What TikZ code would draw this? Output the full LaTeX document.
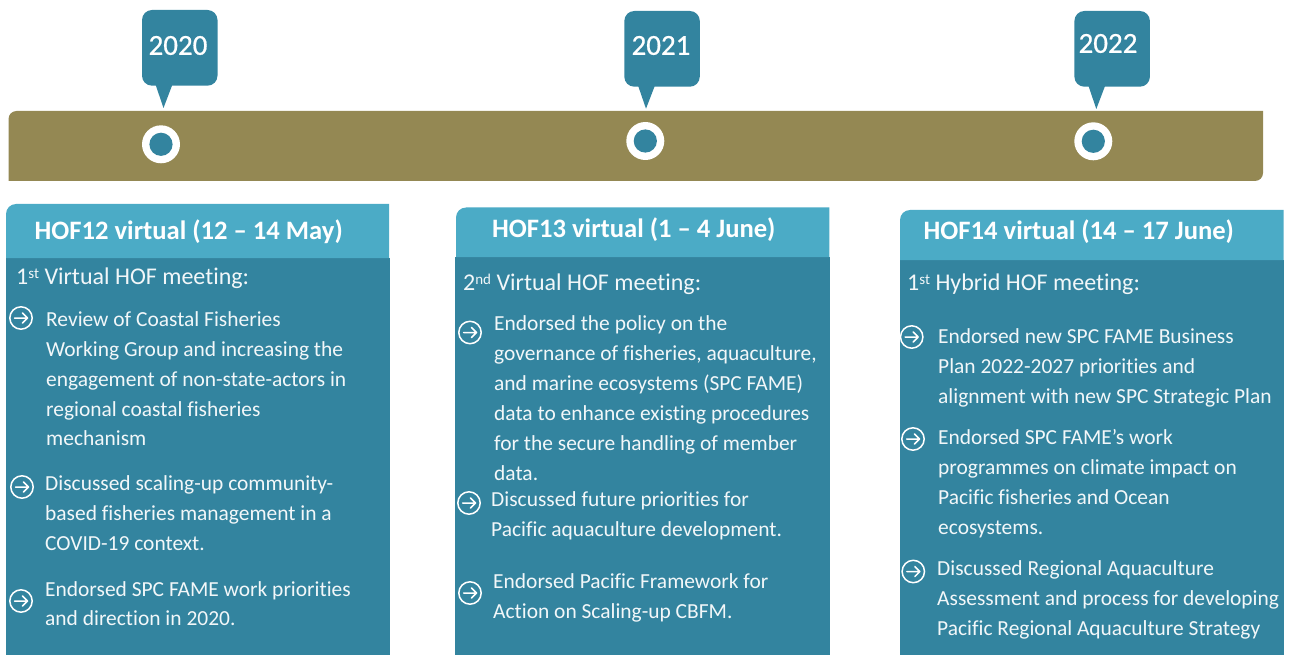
\documentclass[tikz,border=0pt]{standalone}
\usepackage{fontspec}
\setmainfont{Carlito}[Ligatures=CommonOff]
\newfontfamily\yearfont{Carlito}[FakeBold=0.7]
\definecolor{teal}{HTML}{33849F}
\definecolor{lightteal}{HTML}{4BABC6}
\definecolor{olive}{HTML}{948853}
\definecolor{fg}{HTML}{F2F7F9}
\newcommand{\sups}[1]{\raisebox{6.5pt}{\fontsize{15}{16}\selectfont #1}}
\tikzset{
  x=1pt,y=-1pt,
  txt/.style={anchor=base west,inner sep=0pt,text=fg,font=\fontsize{21.45}{24}\selectfont},
  lead/.style={txt,font=\fontsize{24}{26}\selectfont},
  head/.style={anchor=base west,inner sep=0pt,text=white,font=\fontsize{26.6}{30}\selectfont\bfseries},
  year/.style={anchor=center,inner sep=0pt,text=white,font=\fontsize{29}{30}\yearfont},
  ico/.pic={
    \draw[white,line width=1.5pt] (0,0) circle (11.2);
    \draw[white,line width=1.5pt,line cap=round,line join=round] (-6.5,0)--(6.5,0) (1.5,-5)--(6.5,0)--(1.5,5);
  }
}
\newcommand{\callout}[4]{%
  \fill[teal,rounded corners=10pt] (#1,#2) rectangle (#1+75.5,#2+75.7);
  \fill[teal] (#3-8.5,#2+73)--(#3+9.5,#2+73)--(#3,#4)--cycle;
}
\newcommand{\ring}[2]{%
  \fill[white] (#1,#2) circle (19);
  \fill[teal] (#1,#2) circle (11.6);
}
% panel: left, top, split, right of the header, right of the body, left of the body
\newcommand{\panel}[6]{%
  \fill[teal] (#6,#3) rectangle (#5,655);
  \fill[lightteal] (#1,#2+10) .. controls (#1,#2+4.5) and (#1+4.5,#2) .. (#1+10,#2) -- (#4,#2) -- (#4,#3) -- (#1,#3) -- cycle;
}
\begin{document}
\begin{tikzpicture}
\useasboundingbox (0,0) rectangle (1290,655);
% bar
\fill[olive] (8.5,181) -- (8.5,119) .. controls (8.5,114.6) and (12.1,111) .. (16.5,111) -- (1263,111) -- (1263,173) .. controls (1263,177.4) and (1259.4,181) .. (1255,181) -- cycle;
% callouts
\callout{142}{10}{163.5}{108}
\callout{624.3}{11}{646}{108.7}
\callout{1074.4}{11}{1096.3}{109}
\node[year] (y20) at (178,45.5) {2020};
\node[year] (y21) at (661,45.5) {2021};
\node[year] (y22) at (1108,43.5) {2022};
\ring{161}{144.3}
\ring{645.3}{141}
\ring{1093.3}{141.3}
% tiles
\panel{6}{204}{258}{389}{390}{6}
\panel{456}{207.5}{257}{829.3}{830}{455}
\panel{900}{210}{260}{1283.5}{1284}{900}
% headers
\node[head] (h1) at (34.5,239.5) {HOF12 virtual (12 – 14 May)};
\node[head] (h2) at (492,237.5) {HOF13 virtual (1 – 4 June)};
\node[head] (h3) at (923.5,239.5) {HOF14 virtual (14 – 17 June)};
% column 1
\node[lead] (a0) at (16,284.5) {1\sups{st} Virtual HOF meeting:};
\pic at (21,318) {ico};
\node[txt] (a1) at (46,326) {Review of Coastal Fisheries};
\node[txt] (a2) at (46,356) {Working Group and increasing the};
\node[txt] (a3) at (46,386) {engagement of non-state-actors in};
\node[txt] (a4) at (46,416) {regional coastal fisheries};
\node[txt] (a5) at (46,445) {mechanism};
\pic at (22,487) {ico};
\node[txt] (a6) at (45,490) {Discussed scaling-up community-};
\node[txt] (a7) at (45,520) {based fisheries management in a};
\node[txt] (a8) at (45,550) {COVID-19 context.};
\pic at (21,601) {ico};
\node[txt] (a9) at (45,596) {Endorsed SPC FAME work priorities};
\node[txt] (a10) at (45,625) {and direction in 2020.};
% column 2
\node[lead] (b0) at (463,290.5) {2\sups{nd} Virtual HOF meeting:};
\pic at (470,332.5) {ico};
\node[txt] (b1) at (494,330) {Endorsed the policy on the};
\node[txt] (b2) at (494,360) {governance of fisheries, aquaculture,};
\node[txt] (b3) at (494,390) {and marine ecosystems (SPC FAME)};
\node[txt] (b4) at (494,420) {data to enhance existing procedures};
\node[txt] (b5) at (494,450) {for the secure handling of member};
\node[txt] (b6) at (494,480) {data.};
\pic at (469,503) {ico};
\node[txt] (b7) at (491,506) {Discussed future priorities for};
\node[txt] (b8) at (491,536) {Pacific aquaculture development.};
\pic at (470,593) {ico};
\node[txt] (b9) at (493,588) {Endorsed Pacific Framework for};
\node[txt] (b10) at (493,618) {Action on Scaling-up CBFM.};
% column 3
\node[lead] (c0) at (907,290.5) {1\sups{st} Hybrid HOF meeting:};
\pic at (911.7,337) {ico};
\node[txt] (c1) at (938,343) {Endorsed new SPC FAME Business};
\node[txt] (c2) at (938,373) {Plan 2022-2027 priorities and};
\node[txt] (c3) at (938,403) {alignment with new SPC Strategic Plan};
\pic at (913,439) {ico};
\node[txt] (c4) at (938,444) {Endorsed SPC FAME’s work};
\node[txt] (c5) at (938,474) {programmes on climate impact on};
\node[txt] (c6) at (938,504) {Pacific fisheries and Ocean};
\node[txt] (c7) at (938,534) {ecosystems.};
\pic at (913.3,571.5) {ico};
\node[txt] (c8) at (937,575) {Discussed Regional Aquaculture};
\node[txt] (c9) at (937,605) {Assessment and process for developing};
\node[txt] (c10) at (937,635) {Pacific Regional Aquaculture Strategy};
\end{tikzpicture}
\end{document}
